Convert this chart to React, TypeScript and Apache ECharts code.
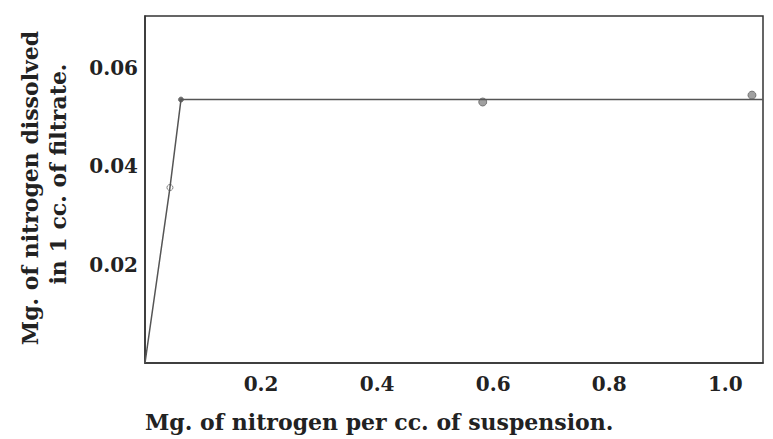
import React, { useEffect, useRef } from "react";
import * as echarts from "echarts";

const xTicks = [0.2, 0.4, 0.6, 0.8, 1.0];
const yTicks = [0.02, 0.04, 0.06];
const curveX = [0, 0.043, 0.062, 1.065];
const curveY = [0, 0.0357, 0.0536, 0.0536];
const pointX = [0.043, 0.062, 0.582, 1.046];
const pointY = [0.0357, 0.0536, 0.0531, 0.0545];
const xTitle = "Mg. of nitrogen per cc. of suspension.";
const yTitle1 = "Mg. of nitrogen dissolved";
const yTitle2 = "in 1 cc. of filtrate.";

const FONT = "'DejaVu Serif', 'Liberation Serif', serif";

export default function App() {
  const ref = useRef<HTMLDivElement>(null);
  useEffect(() => {
    const chart = echarts.init(ref.current!, null, { renderer: "svg" });
    const near = (v: number, arr: number[]) => arr.some((t) => Math.abs(t - v) < 1e-6);
    chart.setOption({
      animation: false,
      backgroundColor: "#ffffff",
      grid: { left: 145, right: 10, top: 16, bottom: 76, show: true, borderColor: "#333", borderWidth: 1.5, backgroundColor: "transparent" },
      xAxis: {
        type: "value",
        min: 0,
        max: 1.065,
        interval: 0.2,
        splitLine: { show: false },
        axisTick: { show: false },
        axisLine: { show: true, lineStyle: { color: "#333", width: 1.5 } },
        axisLabel: {
          margin: 11,
          color: "#222",
          fontFamily: FONT,
          fontWeight: "bold",
          fontSize: 20,
          showMaxLabel: false,
          formatter: (v: number) => (near(v, xTicks) ? v.toFixed(1) : ""),
        },
      },
      yAxis: {
        type: "value",
        min: 0,
        max: 0.0706,
        interval: 0.02,
        splitLine: { show: false },
        axisTick: { show: false },
        axisLine: { show: true, lineStyle: { color: "#333", width: 1.5 } },
        axisLabel: {
          margin: 7,
          color: "#222",
          fontFamily: FONT,
          fontWeight: "bold",
          fontSize: 20,
          showMaxLabel: false,
          formatter: (v: number) => (near(v, yTicks) ? v.toFixed(2) : ""),
        },
      },
      series: [
        {
          type: "line",
          data: curveX.map((x, i) => [x, curveY[i]]),
          showSymbol: false,
          symbol: "none",
          lineStyle: { color: "#555", width: 1.5 },
        },
        {
          type: "scatter",
          data: pointX.map((x, i) => [x, pointY[i]]),
          symbolSize: (_: any, p: any) => (p.dataIndex === 0 ? 6 : p.dataIndex === 1 ? 5 : 8),
          itemStyle: {
            color: (p: any) => (p.dataIndex === 0 ? "#fff" : p.dataIndex === 1 ? "#444" : "#888"),
            borderColor: "#666",
            borderWidth: 1,
          },
        },
      ],
      graphic: [
        {
          type: "text",
          left: 145,
          top: 411,
          style: { text: xTitle, font: `bold 22px ${FONT}`, fill: "#222" },
        },
        {
          type: "text",
          x: 30,
          y: 188,
          rotation: Math.PI / 2,
          style: { text: yTitle1, font: `bold 22px ${FONT}`, fill: "#222", align: "center", verticalAlign: "middle" },
        },
        {
          type: "text",
          x: 58,
          y: 174,
          rotation: Math.PI / 2,
          style: { text: yTitle2, font: `bold 22px ${FONT}`, fill: "#222", align: "center", verticalAlign: "middle" },
        },
      ],
    });
    return () => chart.dispose();
  }, []);
  return <div ref={ref} style={{ width: 773, height: 439, position: "absolute", left: 0, top: 0 }} />;
}
